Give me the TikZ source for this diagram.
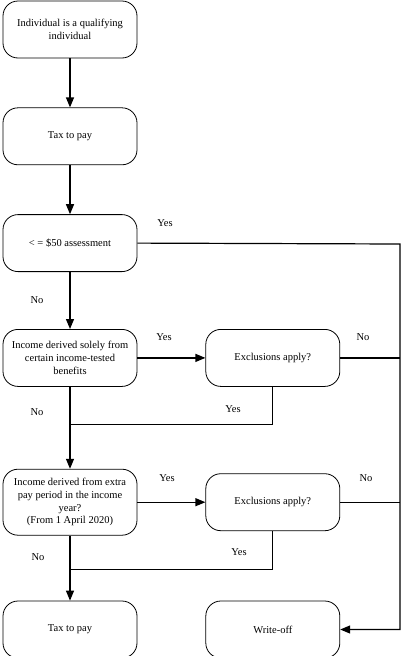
\documentclass[tikz,border=0pt]{standalone}
\usepackage{fontspec}
\setmainfont{Liberation Serif}
\usetikzlibrary{positioning,arrows.meta}

\begin{document}
\begin{tikzpicture}[x=1pt,y=1pt,
    font=\fontsize{10.5}{12.6}\selectfont,
    box/.style={draw, rounded corners=15pt, align=center,
        minimum width=134pt, minimum height=57pt, line width=0.8pt},
    link/.style={line width=1.2pt},
    arrow/.style={link, -{Triangle[length=10pt,width=8pt]}},
    lbl/.style={inner sep=0pt}]

\useasboundingbox (0,0) rectangle (416,-656);

% Left column
\node[box] at (70,-29.5) (block1) {Individual is a qualifying\\ individual};

\node[box, below=49pt of block1] (block2) {Tax to pay};

\node[box, below=49pt of block2] (block3) {< = \$50 assessment};

\node[box, below=57pt of block3] (block4)
    {Income derived solely from\\ certain income-tested\\ benefits};

\node[box,
    below=82pt of block4,
    minimum height=66pt] (block5)
    {Income derived from extra\\ pay period in the income\\ year?\\ (From 1 April 2020)};

\node[box, below=65pt of block5] (block6) {Tax to pay};

% Right column
\node[box, right=68pt of block4] (excl1) {Exclusions apply?};
\node[box, right=68pt of block5] (excl2) {Exclusions apply?};
\node[box, right=68pt of block6] (writeoff) {Write-off};

% Helper points
\coordinate (rail) at (400,-244);
\path (block4.south) ++(0,-38) coordinate (merge1);
\path (block5.south) ++(0,-34) coordinate (merge2);

% Arrows
\draw[arrow] (block1) -- (block2);
\draw[arrow] (block2) -- (block3);
\draw[arrow] (block3) -- (block4);
\draw[arrow] (block4) -- (block5);
\draw[arrow] (block5) -- (block6);
\draw[arrow] (block4) -- (excl1);
\draw[arrow] (block5) -- (excl2);
\draw[link] (excl1.south) |- (merge1);
\draw[link] (excl2.south) |- (merge2);
\draw[arrow] (block3.east) -- (rail) |- (writeoff.east);
\draw[link] (excl1.east) -- (excl1.east -| rail);
\draw[link] (excl2.east) -- (excl2.east -| rail);

% Labels
\node[lbl] at (165,-223) (yes1) {Yes};
\node[lbl] at (37,-300) (no1) {No};
\node[lbl] at (164,-337) (yes2) {Yes};
\node[lbl] at (363,-337) (no2) {No};
\node[lbl] at (37,-412) (no3) {No};
\node[lbl] at (233,-409) (yes3) {Yes};
\node[lbl] at (167,-478) (yes4) {Yes};
\node[lbl] at (366,-478) (no4) {No};
\node[lbl] at (38,-557) (no5) {No};
\node[lbl] at (239,-552) (yes5) {Yes};

\end{tikzpicture}
\end{document}
